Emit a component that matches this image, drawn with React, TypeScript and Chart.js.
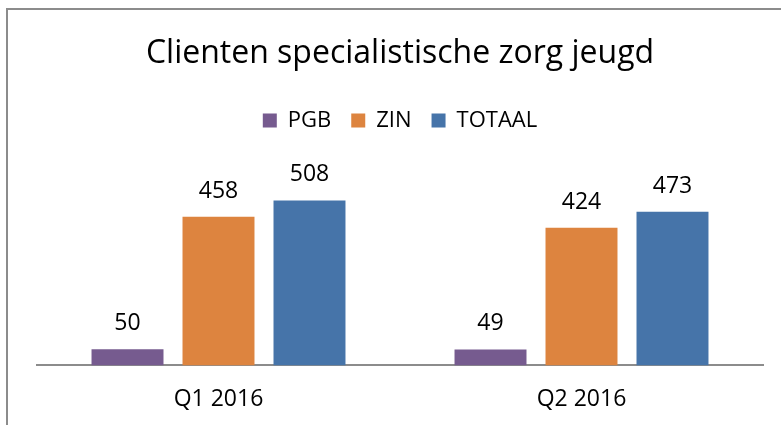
import React, { useEffect, useRef } from "react";
import { Chart, registerables } from "chart.js";

Chart.register(...registerables);

const TITLE = "Clienten specialistische zorg jeugd";
const categories = ["Q1 2016", "Q2 2016"];
const seriesNames = ["PGB", "ZIN", "TOTAAL"];
const pgbValues = [50, 49];
const zinValues = [458, 424];
const totaalValues = [508, 473];
const seriesColors = ["#765B8F", "#DD843F", "#4674A9"];
const Y_MAX = 690;
const FONT = "'Open Sans', 'DejaVu Sans', sans-serif";

const dataLabelPlugin = {
  id: "dataLabels",
  afterDatasetsDraw(chart: any) {
    const ctx = chart.ctx;
    ctx.save();
    ctx.font = `23px ${FONT}`;
    ctx.fillStyle = "#000";
    ctx.textAlign = "center";
    ctx.textBaseline = "alphabetic";
    chart.data.datasets.forEach((ds: any, i: number) => {
      const meta = chart.getDatasetMeta(i);
      meta.data.forEach((bar: any, j: number) => {
        ctx.fillText(String(ds.data[j]), bar.x, bar.y - 19);
      });
    });
    ctx.restore();
  },
};

export default function App() {
  const ref = useRef<HTMLCanvasElement | null>(null);
  useEffect(() => {
    if (!ref.current) return;
    const values = [pgbValues, zinValues, totaalValues];
    const chart = new Chart(ref.current, {
      type: "bar",
      data: {
        labels: categories,
        datasets: seriesNames.map((name, i) => ({
          label: name,
          data: values[i],
          backgroundColor: seriesColors[i],
          borderWidth: 0,
          categoryPercentage: 0.752,
          barPercentage: 0.791,
        })),
      },
      options: {
        animation: false,
        responsive: false,
        maintainAspectRatio: false,
        layout: { padding: { left: 37, right: 18, top: 0, bottom: 0 } },
        plugins: {
          title: {
            display: true,
            text: TITLE,
            color: "#000",
            font: { family: FONT, size: 32, weight: "normal" },
            padding: { top: 35, bottom: 16 },
          },
          legend: {
            display: true,
            position: "top",
            labels: {
              color: "#000",
              font: { family: FONT, size: 22 },
              boxWidth: 14,
              boxHeight: 14,
              padding: 20,
            },
          },
          tooltip: { enabled: false },
        },
        scales: {
          x: {
            grid: { display: false, drawTicks: false },
            border: { display: true, color: "#8C8C8C", width: 2 },
            ticks: {
              color: "#000",
              font: { family: FONT, size: 23 },
              padding: 20,
            },
            afterFit(scale: any) {
              scale.height -= 8;
            },
          },
          y: {
            display: false,
            min: 0,
            max: Y_MAX,
          },
        },
      },
      plugins: [dataLabelPlugin],
    });
    return () => chart.destroy();
  }, []);
  return (
    <div style={{ position: "fixed", left: 0, top: 0, width: 781, height: 425, background: "#fff", overflow: "hidden" }}>
      <canvas ref={ref} width={781} height={425} style={{ position: "absolute", left: 0, top: 0, width: 781, height: 425 }} />
      <div style={{ position: "absolute", left: 6, top: 8, width: 900, height: 600, borderTop: "2px solid #8C8C8C", borderLeft: "2px solid #8C8C8C", pointerEvents: "none" }} />
    </div>
  );
}
